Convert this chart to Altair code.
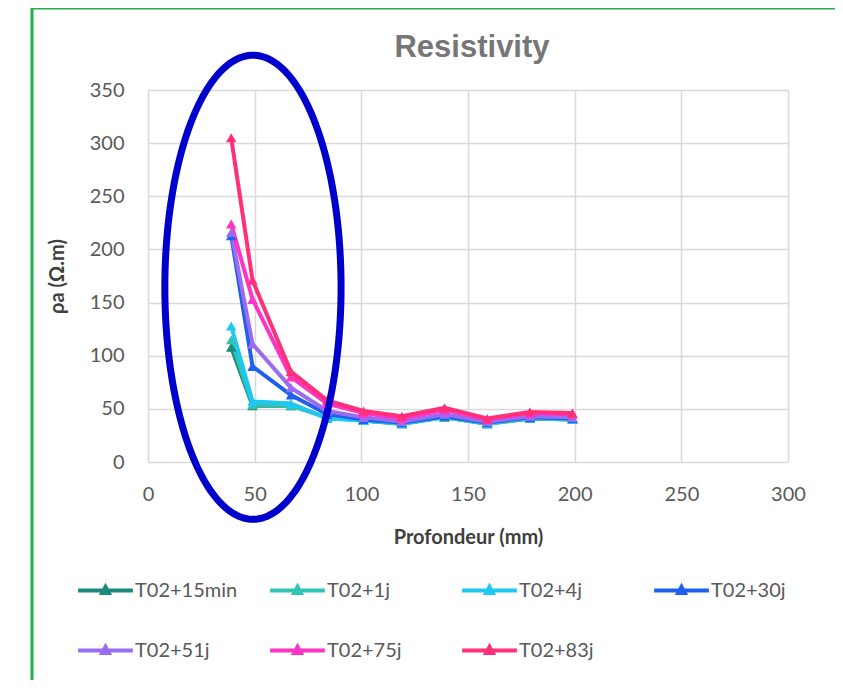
import altair as alt
import pandas as pd
import numpy as np

# ---- data ----
depth = [39, 49, 67, 84, 101, 119, 139, 159, 179, 199]
series_names = ["T02+15min", "T02+1j", "T02+4j", "T02+30j", "T02+51j", "T02+75j", "T02+83j"]
s_15min = [108, 53, 53, 42, 39, 36, 42, 36, 41, 40]
s_1j = [115, 54, 53, 42, 39, 36, 42, 36, 41, 40]
s_4j = [128, 57, 55, 41, 39, 36, 43, 36, 42, 40]
s_30j = [213, 90, 63, 45, 40, 37, 43, 37, 42, 41]
s_51j = [216, 111, 70, 48, 42, 38, 45, 38, 43, 42]
s_75j = [224, 153, 80, 55, 46, 41, 49, 40, 46, 45]
s_83j = [305, 171, 85, 58, 48, 43, 51, 41, 47, 46]
series_values = [s_15min, s_1j, s_4j, s_30j, s_51j, s_75j, s_83j]
colors = ["#1b8a7a", "#2ec4b4", "#1ec8f0", "#1f5ff0", "#9a6cf2", "#ff33c4", "#ff2f7a"]

x_ticks = [0, 50, 100, 150, 200, 250, 300]
y_ticks = [0, 50, 100, 150, 200, 250, 300, 350]
chart_title = "Resistivity"

# hand-drawn ellipse annotation (centre / radii in data units)
ell_cx, ell_cy, ell_rx, ell_ry = 49.2, 164.4, 41.3, 218.3

rows = []
for name, vals in zip(series_names, series_values):
    for d, v in zip(depth, vals):
        rows.append({"Profondeur": d, "rho": v, "serie": name})
df = pd.DataFrame(rows)

t = np.linspace(0, 2 * np.pi, 241)
ell = pd.DataFrame({"x": ell_cx + ell_rx * np.cos(t),
                    "y": ell_cy + ell_ry * np.sin(t),
                    "i": np.arange(len(t))})

W, H = 640, 372
xs = alt.Scale(domain=[0, 300], nice=False)
ys = alt.Scale(domain=[0, 350], nice=False)
cs = alt.Scale(domain=series_names, range=colors)

legend = alt.Legend(
    title=None, orient="none", legendX=-72, legendY=H + 99,
    columns=4, direction="horizontal", gridAlign="all",
    columnPadding=24, rowPadding=20,
    symbolType="M-1,0L1,0M-0.12,0.09L0,-0.13L0.12,0.09Z",
    symbolSize=3000, symbolStrokeWidth=4, labelFont="Lato",
    labelFontSize=20, labelColor="#595959", labelOffset=0,
)

xenc = alt.X("Profondeur:Q", scale=xs,
             axis=alt.Axis(values=x_ticks, title="Profondeur (mm)", labelFlush=False))
yenc = alt.Y("rho:Q", scale=ys,
             axis=alt.Axis(values=y_ticks, title="ρa (Ω.m)"))

base = alt.Chart(df)
lines = base.mark_line(strokeWidth=4).encode(
    x=xenc, y=yenc,
    color=alt.Color("serie:N", scale=cs, sort=series_names, legend=legend),
    detail="serie:N",
)
points = base.mark_point(shape="triangle-up", filled=True, size=110, opacity=1).encode(
    x=xenc, y=yenc,
    color=alt.Color("serie:N", scale=cs, sort=series_names, legend=legend),
)

ellipse = alt.Chart(ell).mark_line(color="#0000cc", strokeWidth=7, clip=False).encode(
    x=alt.X("x:Q", scale=xs), y=alt.Y("y:Q", scale=ys), order="i:Q"
)

one = pd.DataFrame({"label": [chart_title]})
border = alt.Chart(one).mark_rect(
    fillOpacity=0, stroke="#22b04c", strokeWidth=3
).encode(
    x=alt.value(32 - 148), x2=alt.value(760), y=alt.value(8 - 90), y2=alt.value(700)
)
title = alt.Chart(one).mark_text(
    font="Liberation Sans", fontSize=31, fontWeight="bold", color="#767676",
    align="center", baseline="middle"
).encode(text="label:N", x=alt.value(W / 2 + 4), y=alt.value(48 - 90))

chart = alt.layer(border, lines, points, ellipse, title).properties(
    width=W, height=H,
    autosize=alt.AutoSizeParams(type="none"),
    padding={"left": 140, "top": 82, "right": 47, "bottom": 218},
).configure_view(stroke=None).configure_axis(
    labelFont="Lato", labelFontSize=20, labelColor="#595959",
    titleFont="Lato", titleFontSize=20, titleFontWeight="bold", titleColor="#404040",
    grid=True, gridColor="#d9d9d9", gridWidth=1.5, domain=False, ticks=False,
).configure_axisX(labelPadding=22, titlePadding=23).configure_axisY(
    labelPadding=24, titlePadding=22
)

chart.save("out.html", embed_options={"renderer": "svg", "actions": False})
